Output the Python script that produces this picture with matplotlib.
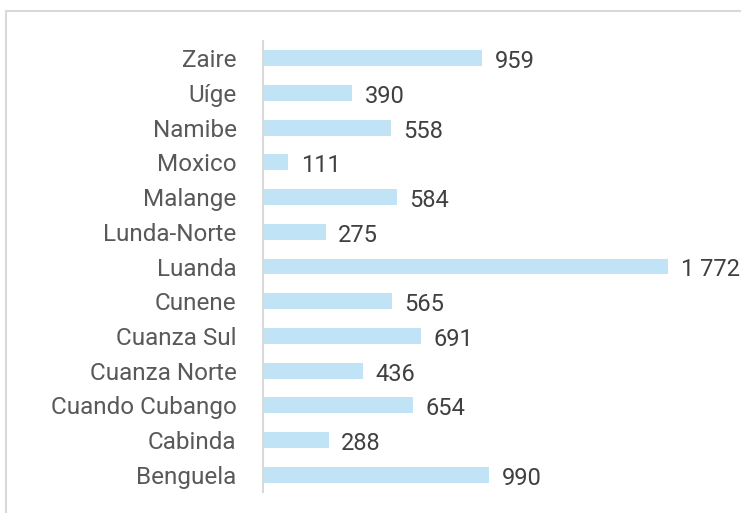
import matplotlib.pyplot as plt
from matplotlib.patches import Rectangle

provinces = ["Benguela", "Cabinda", "Cuando Cubango", "Cuanza Norte", "Cuanza Sul",
             "Cunene", "Luanda", "Lunda-Norte", "Malange", "Moxico", "Namibe", "Uíge", "Zaire"]
values = [990, 288, 654, 436, 691, 565, 1772, 275, 584, 111, 558, 390, 959]

W, H = 741, 513
fig = plt.figure(figsize=(W / 100, H / 100), dpi=100)
plt.rcParams['font.family'] = ['Roboto', 'DejaVu Sans']

# light chart-area border
fig.patches.append(Rectangle((6 / W, -0.1), 1.1, (H - 11) / H + 0.1, transform=fig.transFigure,
                             fill=False, edgecolor="#d9d9d9", linewidth=1.5))

ax = fig.add_axes([263 / W, 21 / H, (W - 263) / W, 451 / H])
y = range(len(provinces))
ax.barh(y, values, height=0.46, color="#c0e4f5")
ax.set_xlim(0, (W - 263) / 0.2286)
ax.set_ylim(-0.5, len(provinces) - 0.5)

for i, v in enumerate(values):
    lab = f"{v:,}".replace(",", " ")
    ax.annotate(lab, (v, i), xytext=(9, -2.5), textcoords="offset points",
                va="center", ha="left", fontsize=17, color="#404040", annotation_clip=False)

ax.set_yticks(list(y))
ax.set_yticklabels(provinces, fontsize=17.5, color="#595959")
ax.tick_params(axis="y", length=0, pad=19)
ax.set_xticks([])
for s in ["top", "right", "bottom"]:
    ax.spines[s].set_visible(False)
ax.spines["left"].set_color("#d9d9d9")
ax.spines["left"].set_linewidth(1.5)
ax.patch.set_alpha(0)

fig.savefig("out.png", dpi=100)
